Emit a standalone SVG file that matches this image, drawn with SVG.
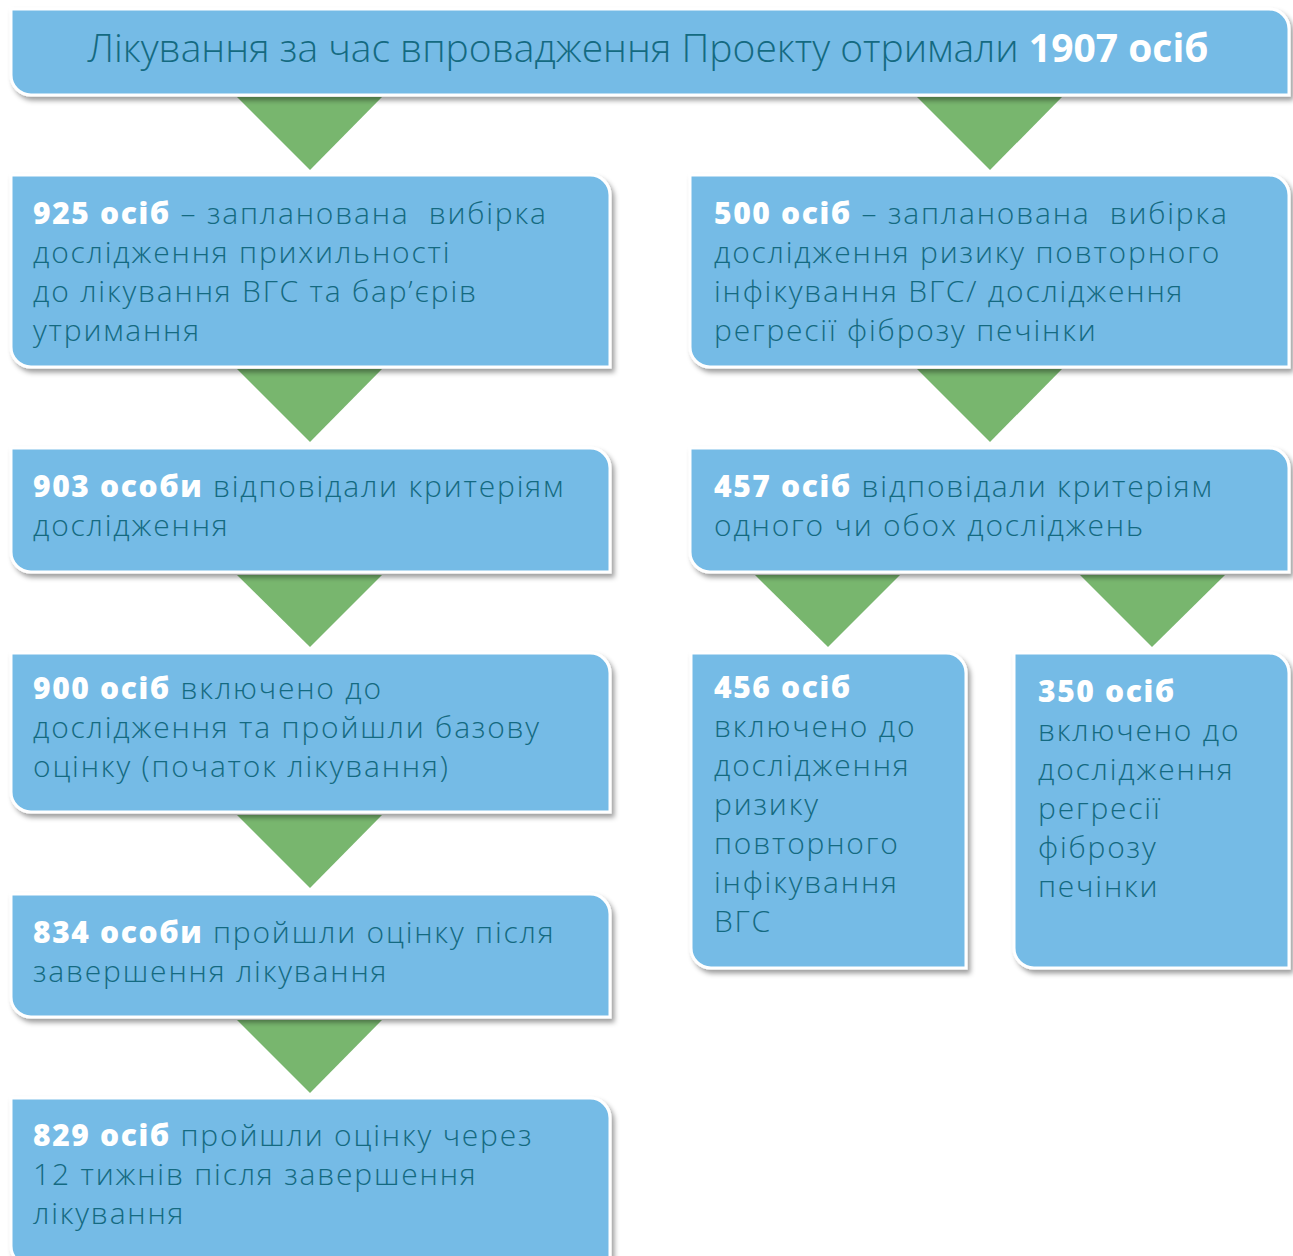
<svg xmlns="http://www.w3.org/2000/svg" width="1293" height="1256" viewBox="0 0 1293 1256">
<defs>
<filter id="sh" x="-5%" y="-10%" width="115%" height="130%">
<feDropShadow dx="3" dy="4" stdDeviation="2.5" flood-color="#000" flood-opacity="0.38"/>
</filter>
<style>
.box{fill:#74bbe6;stroke:#ffffff;stroke-width:3;filter:url(#sh)}
.tri{fill:#78b66e}
.t{font-family:"Open Sans","Noto Sans","DejaVu Sans",sans-serif;font-size:30px;font-weight:300;letter-spacing:1.8px;fill:#146a81;white-space:pre}
.ttl{font-family:"Open Sans","Noto Sans","DejaVu Sans",sans-serif;font-size:39px;font-weight:300;fill:#146a81;white-space:pre}
.b{font-weight:800;letter-spacing:1.6px;fill:#ffffff}
.tb{font-weight:700;fill:#ffffff}
</style>
</defs>
<rect width="1293" height="1256" fill="#ffffff"/>
<g id="connectors">
<polygon class="tri" points="237,97 382,97 310,170"/>
<polygon class="tri" points="917,97 1062,97 990,170"/>
<polygon class="tri" points="237,369 382,369 310,442"/>
<polygon class="tri" points="917,369 1062,369 990,442"/>
<polygon class="tri" points="237,575 382,575 310,647"/>
<polygon class="tri" points="755,575 900,575 828,647"/>
<polygon class="tri" points="1080,575 1225,575 1152,647"/>
<polygon class="tri" points="237,815 382,815 310,888"/>
<polygon class="tri" points="237,1020 382,1020 310,1093"/>
</g>
<g id="n-title">
<path class="box" d="M11,9 H1269 A20,20 0 0 1 1289,29 V95 H31 A20,20 0 0 1 11,75 Z"/>
<text class="ttl" x="648" y="62" text-anchor="middle">Лікування за час впровадження Проекту отримали <tspan class="tb">1907 осіб</tspan></text>
</g>
<g id="n-925">
<path class="box" d="M11,175 H590 A20,20 0 0 1 610,195 V367 H31 A20,20 0 0 1 11,347 Z"/>
<text class="t" x="33" y="224"><tspan class="b">925 осіб</tspan> – запланована  вибірка</text>
<text class="t" x="33" y="263">дослідження прихильності</text>
<text class="t" x="33" y="302">до лікування ВГС та бар’єрів</text>
<text class="t" x="33" y="341">утримання</text>
</g>
<g id="n-500">
<path class="box" d="M690,175 H1269 A20,20 0 0 1 1289,195 V367 H710 A20,20 0 0 1 690,347 Z"/>
<text class="t" x="714" y="224"><tspan class="b">500 осіб</tspan> – запланована  вибірка</text>
<text class="t" x="714" y="263">дослідження ризику повторного</text>
<text class="t" x="714" y="302">інфікування ВГС/ дослідження</text>
<text class="t" x="714" y="341">регресії фіброзу печінки</text>
</g>
<g id="n-903">
<path class="box" d="M11,448 H590 A20,20 0 0 1 610,468 V572 H31 A20,20 0 0 1 11,552 Z"/>
<text class="t" x="33" y="497"><tspan class="b">903 особи</tspan> відповідали критеріям</text>
<text class="t" x="33" y="536">дослідження</text>
</g>
<g id="n-457">
<path class="box" d="M690,448 H1269 A20,20 0 0 1 1289,468 V572 H710 A20,20 0 0 1 690,552 Z"/>
<text class="t" x="714" y="497"><tspan class="b">457 осіб</tspan> відповідали критеріям</text>
<text class="t" x="714" y="536">одного чи обох досліджень</text>
</g>
<g id="n-900">
<path class="box" d="M11,653 H590 A20,20 0 0 1 610,673 V812 H31 A20,20 0 0 1 11,792 Z"/>
<text class="t" x="33" y="699"><tspan class="b">900 осіб</tspan> включено до</text>
<text class="t" x="33" y="738">дослідження та пройшли базову</text>
<text class="t" x="33" y="777">оцінку (початок лікування)</text>
</g>
<g id="n-456">
<path class="box" d="M691,653 H946 A20,20 0 0 1 966,673 V968 H711 A20,20 0 0 1 691,948 Z"/>
<text class="t" x="714" y="698"><tspan class="b">456 осіб</tspan></text>
<text class="t" x="714" y="737">включено до</text>
<text class="t" x="714" y="776">дослідження</text>
<text class="t" x="714" y="815">ризику</text>
<text class="t" x="714" y="854">повторного</text>
<text class="t" x="714" y="893">інфікування</text>
<text class="t" x="714" y="932">ВГС</text>
</g>
<g id="n-350">
<path class="box" d="M1014,653 H1269 A20,20 0 0 1 1289,673 V968 H1034 A20,20 0 0 1 1014,948 Z"/>
<text class="t" x="1038" y="702"><tspan class="b">350 осіб</tspan></text>
<text class="t" x="1038" y="741">включено до</text>
<text class="t" x="1038" y="780">дослідження</text>
<text class="t" x="1038" y="819">регресії</text>
<text class="t" x="1038" y="858">фіброзу</text>
<text class="t" x="1038" y="897">печінки</text>
</g>
<g id="n-834">
<path class="box" d="M11,894 H590 A20,20 0 0 1 610,914 V1017 H31 A20,20 0 0 1 11,997 Z"/>
<text class="t" x="33" y="943"><tspan class="b">834 особи</tspan> пройшли оцінку після</text>
<text class="t" x="33" y="982">завершення лікування</text>
</g>
<g id="n-829">
<path class="box" d="M11,1098 H590 A20,20 0 0 1 610,1118 V1266 H31 A20,20 0 0 1 11,1246 Z"/>
<text class="t" x="33" y="1146"><tspan class="b">829 осіб</tspan> пройшли оцінку через</text>
<text class="t" x="33" y="1185">12 тижнів після завершення</text>
<text class="t" x="33" y="1224">лікування</text>
</g>
</svg>
